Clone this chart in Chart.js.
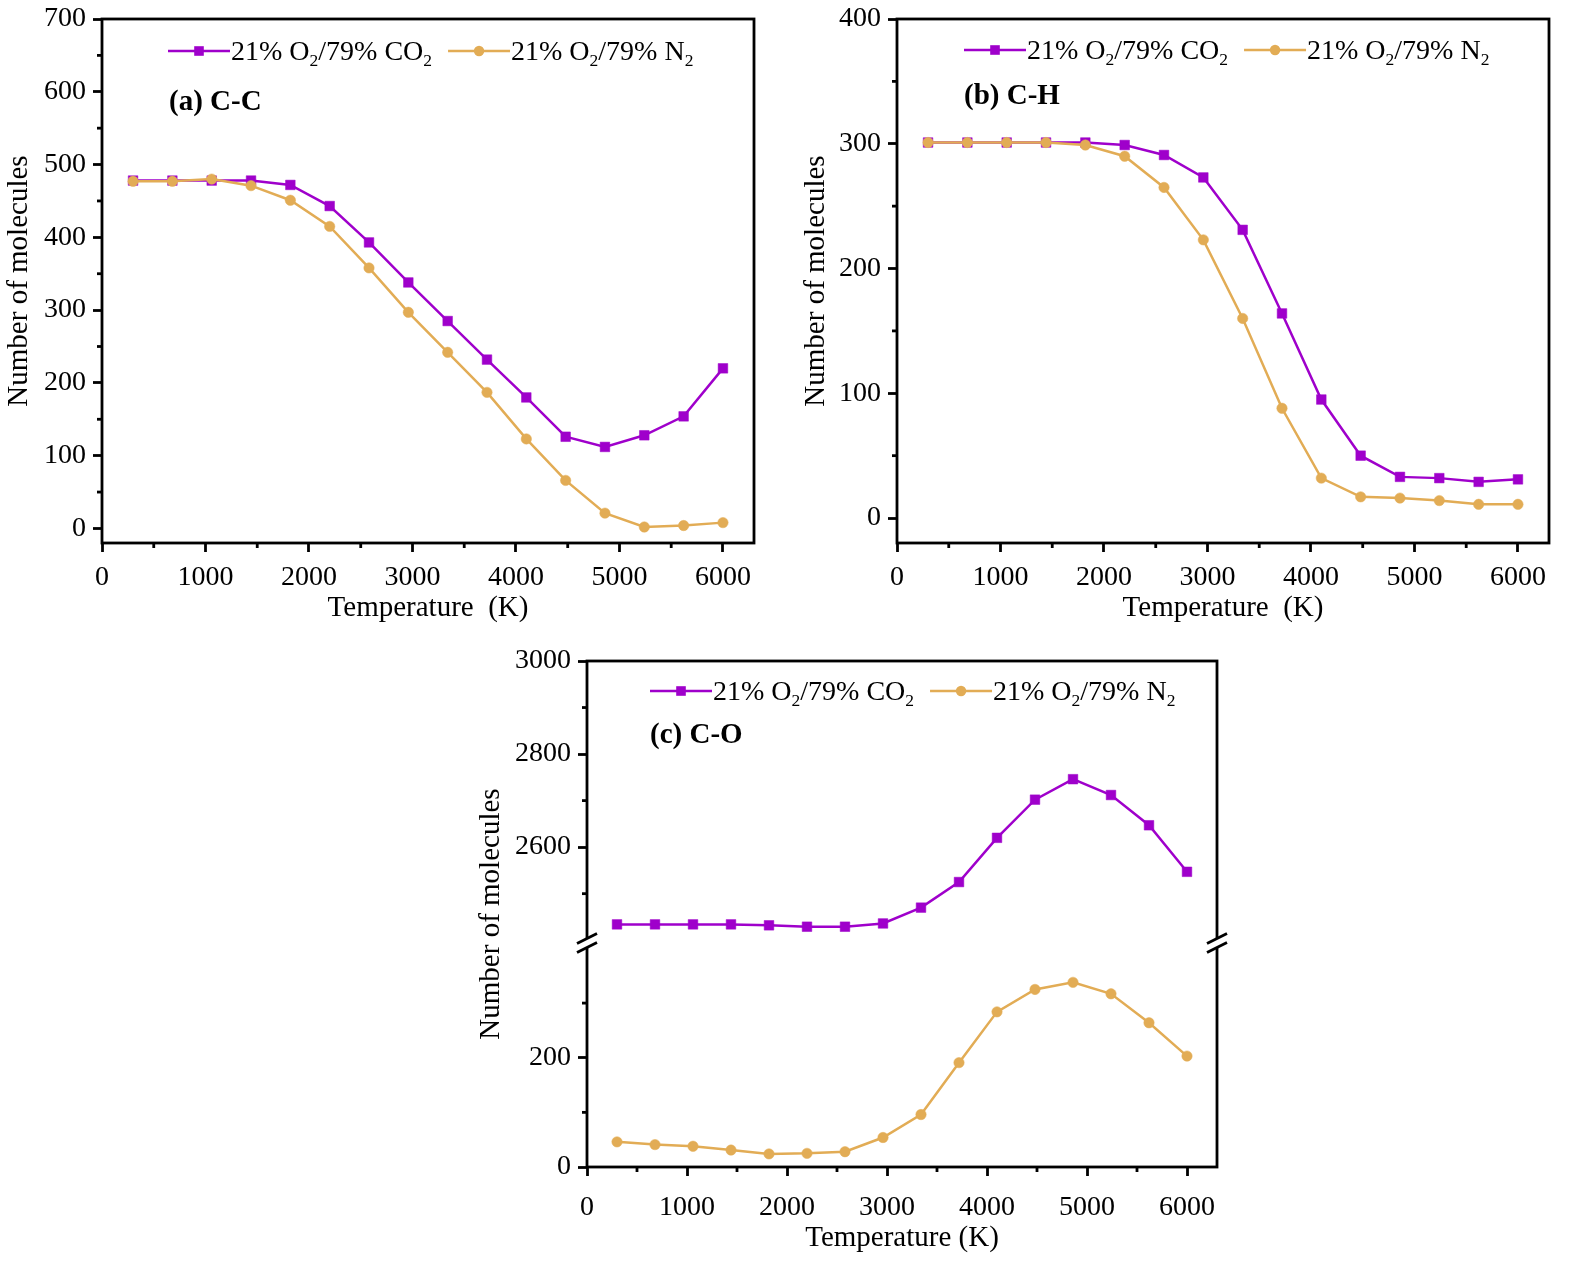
<!DOCTYPE html>
<html>
<head>
<meta charset="utf-8">
<script src="https://cdn.jsdelivr.net/npm/chart.js@4.4.0/dist/chart.umd.min.js"></script>
<style>
  html, body { margin: 0; padding: 0; background: #fff; }
  body { width: 1580px; height: 1265px; position: relative; overflow: hidden; }
  canvas { position: absolute; }
</style>
</head>
<body>
<canvas id="cc" width="790" height="630" style="left:0px;top:0px;width:790px;height:630px"></canvas>
<canvas id="ch" width="790" height="630" style="left:790px;top:0px;width:790px;height:630px"></canvas>
<canvas id="co" width="790" height="625" style="left:470px;top:640px;width:790px;height:625px"></canvas>
<script>
// temperatures (K) shared by all three panels
const temps = [300, 680, 1060, 1440, 1820, 2200, 2580, 2960, 3340, 3720, 4100, 4480, 4860, 5240, 5620, 6000];

// (a) C-C
const ccCO2 = [478, 478, 478, 478, 472, 443, 393, 338, 285, 232, 180, 126, 112, 128, 154, 220];
const ccN2  = [477, 477, 480, 471, 451, 415, 358, 297, 242, 187, 123, 66, 21, 2, 4, 8];
// (b) C-H
const chCO2 = [301, 301, 301, 301, 301, 299, 291, 273, 231, 164, 95, 50, 33, 32, 29, 31];
const chN2  = [301, 301, 301, 301, 299, 290, 265, 223, 160, 88, 32, 17, 16, 14, 11, 11];
// (c) C-O
const coCO2 = [2434, 2434, 2434, 2434, 2432, 2429, 2429, 2436, 2470, 2525, 2620, 2702, 2746, 2712, 2647, 2547];
const coN2  = [46, 41, 38, 31, 24, 25, 28, 54, 96, 191, 284, 325, 338, 317, 264, 203];

// tick labels
const xTicks = [0, 1000, 2000, 3000, 4000, 5000, 6000];
const xMinor = [500, 1500, 2500, 3500, 4500, 5500];
const ccTicks = [0, 100, 200, 300, 400, 500, 600, 700];
const ccMinor = [50, 150, 250, 350, 450, 550, 650];
const chTicks = [0, 100, 200, 300, 400];
const chMinor = [50, 150, 250, 350];
const coUpTicks = [2600, 2800, 3000];
const coUpMinor = [2500, 2700, 2900];
const coLowTicks = [0, 200];
const coLowMinor = [100, 300];

const PURPLE = '#9F00CB';
const GOLD = '#E2AC55';
const SERIF = "'Liberation Serif', 'Times New Roman', serif";
const TICK = 28;

Chart.defaults.font.family = SERIF;
Chart.defaults.color = '#000';

const legendItems = [
  { ds: 0, parts: [['21% O', 0], ['2', 1], ['/79% CO', 0], ['2', 1]] },
  { ds: 1, parts: [['21% O', 0], ['2', 1], ['/79% N', 0], ['2', 1]] }
];

function pts(ys) {
  return temps.map((t, i) => ({ x: t, y: ys[i] }));
}

function fixTicks(list) {
  return s => { s.ticks = list.map(v => ({ value: v })); };
}

function drawMarker(ctx, style, x, y, color) {
  ctx.fillStyle = color;
  ctx.beginPath();
  if (style === 'rect') {
    ctx.rect(x - 4.8, y - 4.8, 9.6, 9.6);
  } else {
    ctx.arc(x, y, 5.2, 0, Math.PI * 2);
  }
  ctx.fill();
}

// frame, minor ticks, axis break, legend and panel label
const deco = {
  id: 'panelDeco',
  afterDraw(chart, args, o) {
    const ctx = chart.ctx;
    const a = chart.chartArea;
    ctx.save();
    ctx.strokeStyle = '#000';
    ctx.lineWidth = 2.8;

    o.minor.forEach(m => {
      const s = chart.scales[m.scale];
      m.values.forEach(v => {
        const p = s.getPixelForValue(v);
        ctx.beginPath();
        if (s.isHorizontal()) {
          ctx.moveTo(p, a.bottom);
          ctx.lineTo(p, a.bottom + 5);
        } else {
          ctx.moveTo(a.left, p);
          ctx.lineTo(a.left - 5, p);
        }
        ctx.stroke();
      });
    });

    ctx.strokeRect(a.left, a.top, a.right - a.left, a.bottom - a.top);

    if (o.breakAt) {
      const yb = chart.scales[o.breakAt].bottom;
      [a.left, a.right].forEach(x => {
        ctx.fillStyle = '#fff';
        ctx.beginPath();
        ctx.moveTo(x - 3, yb - 4.5 + 1.5);
        ctx.lineTo(x + 3, yb - 4.5 - 1.5);
        ctx.lineTo(x + 3, yb + 4.5 - 1.5);
        ctx.lineTo(x - 3, yb + 4.5 + 1.5);
        ctx.closePath();
        ctx.fill();
        [-4.5, 4.5].forEach(d => {
          ctx.beginPath();
          ctx.moveTo(x - 10, yb + d + 5);
          ctx.lineTo(x + 10, yb + d - 5);
          ctx.stroke();
        });
      });
    }

    // legend
    let x = a.left + o.legendX;
    const ly = a.top + o.legendY;
    legendItems.forEach(item => {
      const ds = chart.data.datasets[item.ds];
      ctx.strokeStyle = ds.borderColor;
      ctx.lineWidth = 2.5;
      ctx.beginPath();
      ctx.moveTo(x, ly);
      ctx.lineTo(x + 62, ly);
      ctx.stroke();
      drawMarker(ctx, ds.pointStyle, x + 31, ly, ds.borderColor);
      x += 62 + 1;
      ctx.fillStyle = '#000';
      ctx.textBaseline = 'alphabetic';
      ctx.textAlign = 'left';
      item.parts.forEach(([txt, sub]) => {
        ctx.font = (sub ? '17.5px ' : '28px ') + SERIF;
        ctx.fillText(txt, x, ly + 8.5 + (sub ? 6 : 0));
        x += ctx.measureText(txt).width;
      });
      x += 16;
    });

    ctx.font = 'bold 29px ' + SERIF;
    ctx.fillStyle = '#000';
    ctx.fillText(o.label, a.left + o.labelX, a.top + o.labelY + 9.5);
    ctx.restore();
  }
};

function xScale(h, titleText, tickPad, titlePad) {
  return {
    type: 'linear', min: 0, max: 6300,
    afterBuildTicks: fixTicks(xTicks),
    afterFit: s => { s.height = h; s.paddingLeft = 0; s.paddingRight = 0; },
    grid: { drawOnChartArea: false, tickLength: 9, tickWidth: 2.8, tickColor: '#000' },
    border: { display: false },
    ticks: { font: { size: TICK }, padding: tickPad, maxRotation: 0, autoSkip: false, callback: v => String(v) },
    title: { display: true, text: titleText, font: { size: 29 }, padding: { top: 0, bottom: titlePad } }
  };
}

function yScale(min, max, ticks, w, extra) {
  return Object.assign({
    type: 'linear', position: 'left', min: min, max: max,
    afterBuildTicks: fixTicks(ticks),
    afterFit: s => { s.width = w; s.paddingTop = 0; s.paddingBottom = 0; },
    grid: { drawOnChartArea: false, tickLength: 9, tickWidth: 2.8, tickColor: '#000' },
    border: { display: false },
    ticks: { font: { size: TICK }, padding: 7, autoSkip: false, callback: v => String(v) }
  }, extra || {});
}

function series(label, ys, color, style, order, axis) {
  const d = {
    label: label, data: pts(ys),
    borderColor: color, backgroundColor: color,
    borderWidth: 2.5, tension: 0,
    pointStyle: style, pointRadius: style === 'rect' ? 6.8 : 5.2,
    pointBorderWidth: 0.5, pointBorderColor: color, pointBackgroundColor: color,
    order: order
  };
  if (axis) d.yAxisID = axis;
  return d;
}

const baseOpts = {
  responsive: false,
  animation: false,
  events: [],
  plugins: { legend: { display: false }, tooltip: { enabled: false } }
};

// (a) C-C
new Chart(document.getElementById('cc'), {
  type: 'line',
  data: {
    datasets: [
      series('21% O2/79% CO2', ccCO2, PURPLE, 'rect', 1),
      series('21% O2/79% N2', ccN2, GOLD, 'circle', 0)
    ]
  },
  options: Object.assign({}, baseOpts, {
    layout: { padding: { left: 0, top: 19, right: 36, bottom: 0 } },
    scales: {
      x: xScale(87, 'Temperature  (K)', 9, 4),
      y: yScale(-20, 700, ccTicks, 102, {
        title: { display: true, text: 'Number of molecules', font: { size: 29 }, padding: { top: 2, bottom: 0 } }
      })
    },
    plugins: Object.assign({}, baseOpts.plugins, {
      panelDeco: {
        minor: [{ scale: 'x', values: xMinor }, { scale: 'y', values: ccMinor }],
        legendX: 66, legendY: 32, label: '(a) C-C', labelX: 67, labelY: 81
      }
    })
  }),
  plugins: [deco]
});

// (b) C-H
new Chart(document.getElementById('ch'), {
  type: 'line',
  data: {
    datasets: [
      series('21% O2/79% CO2', chCO2, PURPLE, 'rect', 1),
      series('21% O2/79% N2', chN2, GOLD, 'circle', 0)
    ]
  },
  options: Object.assign({}, baseOpts, {
    layout: { padding: { left: 5, top: 19, right: 31, bottom: 0 } },
    scales: {
      x: xScale(87, 'Temperature  (K)', 9, 4),
      y: yScale(-20, 400, chTicks, 102, {
        title: { display: true, text: 'Number of molecules', font: { size: 29 }, padding: { top: 4, bottom: 0 } }
      })
    },
    plugins: Object.assign({}, baseOpts.plugins, {
      panelDeco: {
        minor: [{ scale: 'x', values: xMinor }, { scale: 'y', values: chMinor }],
        legendX: 67, legendY: 31, label: '(b) C-H', labelX: 67, labelY: 75
      }
    })
  }),
  plugins: [deco]
});

// (c) C-O, broken y axis made of two stacked scales
new Chart(document.getElementById('co'), {
  type: 'line',
  data: {
    datasets: [
      series('21% O2/79% CO2', coCO2, PURPLE, 'rect', 1, 'yUp'),
      series('21% O2/79% N2', coN2, GOLD, 'circle', 0, 'yLow')
    ]
  },
  options: Object.assign({}, baseOpts, {
    layout: { padding: { left: 0, top: 21, right: 43, bottom: 0 } },
    scales: {
      x: xScale(98, 'Temperature (K)', 15, 9),
      yT: {
        type: 'linear', position: 'left', weight: 2, min: 0, max: 1,
        afterFit: s => { s.width = 40; s.paddingTop = 0; s.paddingBottom = 0; },
        grid: { display: false }, border: { display: false }, ticks: { display: false },
        title: { display: true, text: 'Number of molecules', font: { size: 29 }, padding: { top: 4, bottom: 0 } }
      },
      yUp: yScale(2394, 3000, coUpTicks, 77, { stack: 'co', stackWeight: 282, weight: 1 }),
      yLow: yScale(0, 410, coLowTicks, 77, { stack: 'co', stackWeight: 224, weight: 0 })
    },
    plugins: Object.assign({}, baseOpts.plugins, {
      panelDeco: {
        minor: [{ scale: 'x', values: xMinor }, { scale: 'yUp', values: coUpMinor }, { scale: 'yLow', values: coLowMinor }],
        breakAt: 'yUp',
        legendX: 63, legendY: 30, label: '(c) C-O', labelX: 63, labelY: 72
      }
    })
  }),
  plugins: [deco]
});
</script>
</body>
</html>
